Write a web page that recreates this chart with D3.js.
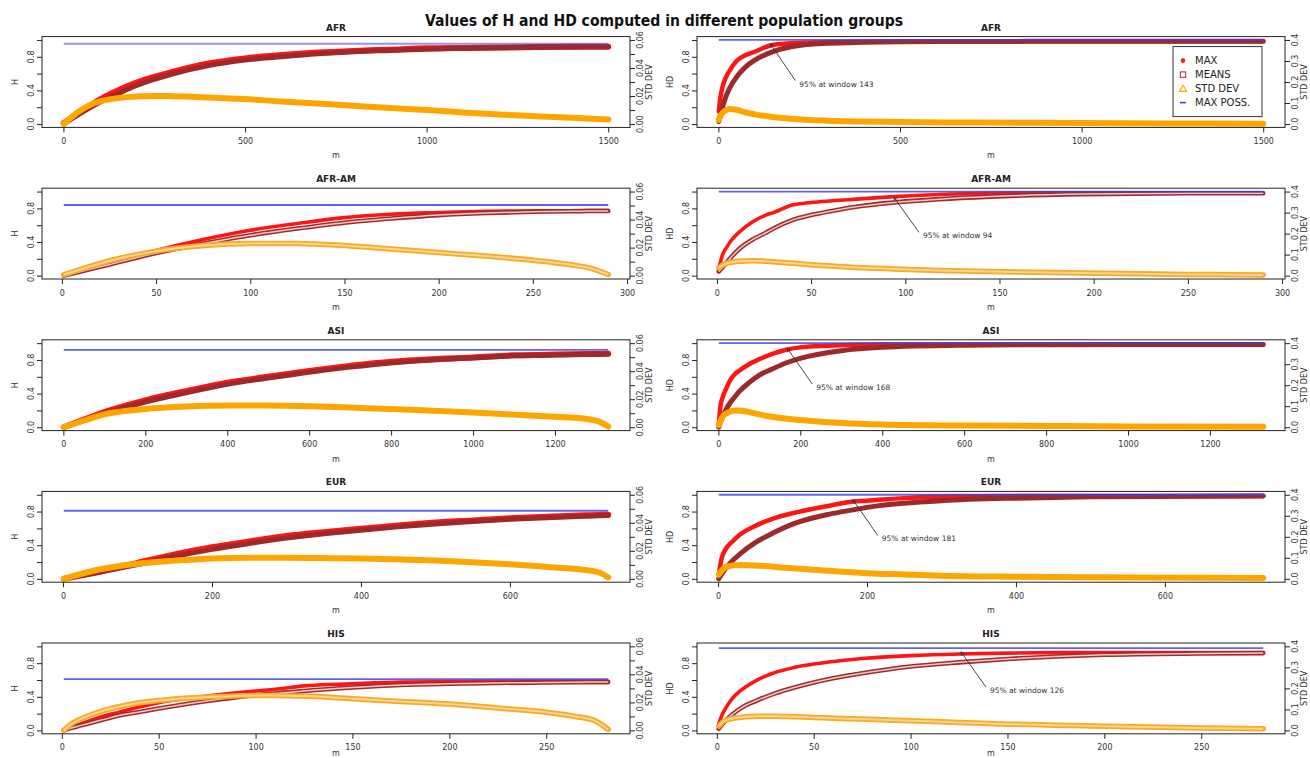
<!DOCTYPE html>
<html><head><meta charset="utf-8">
<script src="https://cdn.jsdelivr.net/npm/d3@7"></script>
<style>
html,body{margin:0;padding:0;background:#fff;}
svg{display:block;}
text{font-family:"DejaVu Sans","Liberation Sans",sans-serif;}
</style></head><body>
<svg id="chart" width="1310" height="758"></svg>
<script>
// ---------------- DATA ----------------
const mainTitle = "Values of H and HD computed in different population groups";
const groups = ["AFR", "AFR-AM", "ASI", "EUR", "HIS"];
const mLast = [1500, 290, 1330, 732, 282];
const xTicks = [
  [0, 500, 1000, 1500],
  [0, 50, 100, 150, 200, 250, 300],
  [0, 200, 400, 600, 800, 1000, 1200],
  [0, 200, 400, 600],
  [0, 50, 100, 150, 200, 250]
];
const yTicks = [0, 0.2, 0.4, 0.6, 0.8, 1.0];
const yLabels = [0, 0.4, 0.8];
const sdTicksH = [0, 0.01, 0.02, 0.03, 0.04, 0.05, 0.06];
const sdLabelsH = [0, 0.02, 0.04, 0.06];
const sdTicksHD = [0, 0.1, 0.2, 0.3, 0.4];
const hMaxPoss = [0.955, 0.84, 0.92, 0.81, 0.61];
const hdMaxPoss = [1.0, 1.0, 1.0, 1.0, 0.98];
const window95 = [143, 94, 168, 181, 126];
const window95Value = [0.955, 0.93, 0.94, 0.94, 0.935];
const legendLabels = ["MAX", "MEANS", "STD DEV", "MAX POSS."];

// AFR
const afrH_m    = [1, 25, 50, 75, 100, 150, 200, 250, 300, 400, 500, 600, 700, 800, 900, 1000, 1100, 1200, 1300, 1400, 1500];
const afrH_max  = [0.01, 0.08, 0.15, 0.22, 0.29, 0.40, 0.49, 0.56, 0.62, 0.72, 0.78, 0.82, 0.85, 0.87, 0.885, 0.90, 0.905, 0.91, 0.915, 0.918, 0.92];
const afrH_mean = [0.0, 0.07, 0.135, 0.20, 0.26, 0.36, 0.455, 0.53, 0.595, 0.695, 0.76, 0.80, 0.835, 0.86, 0.875, 0.89, 0.90, 0.908, 0.913, 0.917, 0.92];
const afrH_sd   = [0.0, 0.0055, 0.0102, 0.0138, 0.0161, 0.0185, 0.0197, 0.0200, 0.0199, 0.019, 0.0178, 0.0161, 0.0147, 0.013, 0.0114, 0.010, 0.0083, 0.0068, 0.0056, 0.0045, 0.0033];
const afrHD_m    = [1, 5, 10, 20, 30, 50, 75, 100, 143, 200, 300, 400, 500, 700, 1000, 1250, 1500];
const afrHD_max  = [0.15, 0.30, 0.42, 0.55, 0.63, 0.75, 0.82, 0.86, 0.935, 0.96, 0.975, 0.98, 0.982, 0.984, 0.985, 0.985, 0.985];
const afrHD_mean = [0.03, 0.10, 0.18, 0.32, 0.42, 0.56, 0.68, 0.76, 0.85, 0.92, 0.96, 0.972, 0.978, 0.982, 0.984, 0.985, 0.985];
const afrHD_sd   = [0.02, 0.035, 0.05, 0.065, 0.071, 0.068, 0.055, 0.046, 0.035, 0.025, 0.016, 0.012, 0.0095, 0.007, 0.005, 0.003, 0.0015];

// AFR-AM
const afamH_m    = [1, 10, 25, 50, 75, 100, 125, 150, 175, 200, 225, 250, 270, 280, 290];
const afamH_max  = [0.0, 0.05, 0.15, 0.30, 0.43, 0.54, 0.62, 0.69, 0.73, 0.75, 0.765, 0.77, 0.77, 0.77, 0.77];
const afamH_mean = [0.0, 0.05, 0.13, 0.27, 0.38, 0.48, 0.56, 0.63, 0.68, 0.72, 0.745, 0.76, 0.765, 0.77, 0.77];
const afamH_sd   = [0.0007, 0.0045, 0.0105, 0.0175, 0.0215, 0.023, 0.023, 0.0215, 0.019, 0.0165, 0.014, 0.011, 0.0078, 0.0055, 0.0008];
const afamHD_m    = [1, 3, 5, 8, 12, 19, 26, 30, 40, 50, 61, 74, 94, 118, 145, 195, 250, 290];
const afamHD_max  = [0.08, 0.25, 0.33, 0.43, 0.52, 0.64, 0.72, 0.75, 0.84, 0.87, 0.89, 0.91, 0.94, 0.965, 0.98, 0.985, 0.985, 0.985];
const afamHD_mean = [0.05, 0.10, 0.15, 0.23, 0.32, 0.43, 0.51, 0.56, 0.66, 0.72, 0.77, 0.82, 0.87, 0.91, 0.94, 0.97, 0.98, 0.98];
const afamHD_sd   = [0.036, 0.05, 0.058, 0.064, 0.069, 0.071, 0.068, 0.066, 0.059, 0.052, 0.046, 0.039, 0.032, 0.025, 0.02, 0.012, 0.006, 0.003];

// ASI
const asiH_m    = [1, 50, 100, 200, 300, 400, 500, 600, 700, 800, 900, 1000, 1100, 1200, 1280, 1310, 1330];
const asiH_max  = [0.0, 0.09, 0.18, 0.32, 0.43, 0.53, 0.60, 0.67, 0.73, 0.78, 0.81, 0.83, 0.855, 0.865, 0.87, 0.872, 0.874];
const asiH_mean = [0.0, 0.08, 0.16, 0.30, 0.41, 0.51, 0.585, 0.655, 0.715, 0.765, 0.80, 0.825, 0.85, 0.86, 0.867, 0.87, 0.872];
const asiH_sd   = [0.0, 0.0048, 0.0092, 0.013, 0.0148, 0.0155, 0.0155, 0.015, 0.014, 0.013, 0.0118, 0.0105, 0.009, 0.0074, 0.0058, 0.0038, 0.0005];
const asiHD_m    = [1, 5, 10, 20, 30, 40, 50, 75, 100, 130, 168, 200, 300, 400, 600, 800, 1000, 1330];
const asiHD_max  = [0.02, 0.25, 0.35, 0.47, 0.57, 0.63, 0.67, 0.75, 0.81, 0.87, 0.925, 0.95, 0.975, 0.985, 0.985, 0.985, 0.985, 0.985];
const asiHD_mean = [0.0, 0.06, 0.12, 0.22, 0.30, 0.36, 0.42, 0.53, 0.62, 0.69, 0.77, 0.82, 0.91, 0.95, 0.975, 0.982, 0.985, 0.985];
const asiHD_sd   = [0.01, 0.03, 0.05, 0.066, 0.075, 0.08, 0.08, 0.072, 0.061, 0.05, 0.04, 0.034, 0.02, 0.013, 0.008, 0.006, 0.004, 0.002];

// EUR
const eurH_m    = [1, 50, 100, 150, 200, 250, 300, 350, 400, 450, 500, 550, 600, 650, 700, 720, 732];
const eurH_max  = [0.0, 0.086, 0.19, 0.29, 0.375, 0.445, 0.51, 0.555, 0.595, 0.635, 0.67, 0.695, 0.72, 0.74, 0.755, 0.76, 0.762];
const eurH_mean = [0.0, 0.08, 0.17, 0.265, 0.35, 0.42, 0.485, 0.535, 0.578, 0.618, 0.652, 0.682, 0.708, 0.728, 0.745, 0.75, 0.752];
const eurH_sd   = [0.0, 0.0068, 0.0108, 0.013, 0.0146, 0.015, 0.015, 0.0148, 0.0146, 0.0139, 0.013, 0.0118, 0.0104, 0.0085, 0.0064, 0.0045, 0.001];
const eurHD_m    = [1, 5, 10, 20, 30, 50, 75, 100, 150, 181, 200, 250, 300, 400, 500, 732];
const eurHD_max  = [0.05, 0.25, 0.35, 0.45, 0.53, 0.63, 0.72, 0.78, 0.87, 0.92, 0.93, 0.96, 0.975, 0.985, 0.985, 0.985];
const eurHD_mean = [0.0, 0.06, 0.12, 0.22, 0.30, 0.43, 0.55, 0.65, 0.77, 0.82, 0.85, 0.90, 0.93, 0.96, 0.975, 0.985];
const eurHD_sd   = [0.02, 0.04, 0.055, 0.064, 0.066, 0.064, 0.057, 0.05, 0.038, 0.031, 0.027, 0.021, 0.015, 0.01, 0.007, 0.004];

// HIS
const hisH_m    = [1, 5, 10, 20, 30, 40, 50, 75, 100, 110, 125, 150, 175, 200, 225, 250, 265, 275, 282];
const hisH_max  = [0.0, 0.04, 0.08, 0.16, 0.22, 0.28, 0.33, 0.41, 0.47, 0.49, 0.53, 0.555, 0.575, 0.58, 0.585, 0.585, 0.585, 0.585, 0.585];
const hisH_mean = [0.0, 0.03, 0.06, 0.12, 0.18, 0.22, 0.26, 0.35, 0.42, 0.44, 0.47, 0.51, 0.54, 0.555, 0.565, 0.57, 0.573, 0.575, 0.575];
const hisH_sd   = [0.0, 0.0048, 0.0083, 0.0135, 0.0171, 0.0197, 0.0214, 0.0238, 0.025, 0.025, 0.0245, 0.0226, 0.0207, 0.0188, 0.016, 0.013, 0.010, 0.007, 0.0007];
const hisHD_m    = [1, 3, 5, 8, 12, 15, 20, 30, 40, 50, 60, 75, 100, 125, 150, 175, 200, 250, 282];
const hisHD_max  = [0.08, 0.20, 0.28, 0.38, 0.47, 0.52, 0.59, 0.69, 0.75, 0.79, 0.82, 0.855, 0.89, 0.91, 0.92, 0.925, 0.925, 0.925, 0.925];
const hisHD_mean = [0.02, 0.08, 0.13, 0.19, 0.26, 0.30, 0.35, 0.44, 0.51, 0.57, 0.62, 0.68, 0.76, 0.81, 0.85, 0.88, 0.90, 0.915, 0.92];
const hisHD_sd   = [0.02, 0.04, 0.05, 0.057, 0.062, 0.065, 0.068, 0.068, 0.065, 0.062, 0.058, 0.054, 0.046, 0.038, 0.03, 0.025, 0.02, 0.012, 0.008];

// ---------------- BUILD ----------------
const panels = [
  {g:0, kind:"H",  m:afrH_m,  max:afrH_max,  mean:afrH_mean,  sd:afrH_sd},
  {g:0, kind:"HD", m:afrHD_m, max:afrHD_max, mean:afrHD_mean, sd:afrHD_sd},
  {g:1, kind:"H",  m:afamH_m,  max:afamH_max,  mean:afamH_mean,  sd:afamH_sd},
  {g:1, kind:"HD", m:afamHD_m, max:afamHD_max, mean:afamHD_mean, sd:afamHD_sd},
  {g:2, kind:"H",  m:asiH_m,  max:asiH_max,  mean:asiH_mean,  sd:asiH_sd},
  {g:2, kind:"HD", m:asiHD_m, max:asiHD_max, mean:asiHD_mean, sd:asiHD_sd},
  {g:3, kind:"H",  m:eurH_m,  max:eurH_max,  mean:eurH_mean,  sd:eurH_sd},
  {g:3, kind:"HD", m:eurHD_m, max:eurHD_max, mean:eurHD_mean, sd:eurHD_sd},
  {g:4, kind:"H",  m:hisH_m,  max:hisH_max,  mean:hisH_mean,  sd:hisH_sd},
  {g:4, kind:"HD", m:hisHD_m, max:hisHD_max, mean:hisHD_mean, sd:hisHD_sd}
];
const dense = [true, false, true, true, false];

const COL = {red:"#ff1414", brown:"#a52a2a", orange:"#ffa500", blue:"#3c3cec", ink:"#222"};
const svg = d3.select("#chart");
const figW = 655, figH = 151.6;

panels.forEach(p => {
  const col = p.kind === "H" ? 0 : 1, row = p.g;
  const ox = col * figW, oy = row * figH;
  const bx0 = ox + 42, bx1 = ox + 630, by0 = oy + 36.6, by1 = oy + 127.4;
  const last = mLast[p.g], span = last - 1;
  const x = d3.scaleLinear().domain([1 - 0.04 * span, last + 0.04 * span]).range([bx0, bx1]);
  const y = d3.scaleLinear().domain([-0.04, 1.04]).range([by1, by0]);
  const sdMax = p.kind === "H" ? 0.06 : 0.4;
  const y2 = d3.scaleLinear().domain([-0.04 * sdMax, 1.04 * sdMax]).range([by1, by0]);
  const g = svg.append("g");

  const idx = d3.range(p.m.length);
  const lineY = arr => d3.line().x(i => x(p.m[i])).y(i => y(arr[i])).curve(d3.curveMonotoneX);
  const lineSD = d3.line().x(i => x(p.m[i])).y(i => y2(p.sd[i])).curve(d3.curveMonotoneX);
  const dn = dense[p.g];
  const isH = p.kind === "H";

  // MAX (red)
  g.append("path").attr("d", lineY(p.max)(idx)).attr("fill","none")
    .attr("stroke", COL.red).attr("stroke-width", dn ? (isH ? 6 : 4.5) : 3.6)
    .attr("stroke-linejoin","round").attr("stroke-linecap","round");
  // MEANS (brown)
  g.append("path").attr("d", lineY(p.mean)(idx)).attr("fill","none")
    .attr("stroke", dn ? "#9c2a2a" : COL.brown).attr("stroke-width", dn ? 5 : 4.6)
    .attr("stroke-linecap","round");
  if (!dn) {
    g.append("path").attr("d", lineY(p.mean)(idx)).attr("fill","none")
      .attr("stroke", "#eccaca").attr("stroke-width", 1.5);
  }
  // STD DEV (orange)
  g.append("path").attr("d", lineSD(idx)).attr("fill","none")
    .attr("stroke", dn ? COL.orange : "#f7a928").attr("stroke-width", dn ? 6 : 5.5)
    .attr("stroke-linecap","round");
  if (!dn) {
    g.append("path").attr("d", lineSD(idx)).attr("fill","none")
      .attr("stroke", "#fdd48e").attr("stroke-width", 2);
  }
  // MAX POSS (blue)
  const mp = isH ? hMaxPoss[p.g] : hdMaxPoss[p.g];
  g.append("path").attr("d", d3.line().x(d => x(d)).y(() => y(mp))([1, last]))
    .attr("stroke", COL.blue).attr("stroke-width", 1.8).attr("opacity", isH && p.g === 0 ? 0.55 : 0.8);

  // box
  g.append("rect").attr("x", bx0).attr("y", by0).attr("width", bx1 - bx0).attr("height", by1 - by0)
    .attr("fill","none").attr("stroke", COL.ink).attr("stroke-width", 1);

  // bottom axis
  const gx = g.append("g").attr("transform", `translate(0,${by1})`)
    .call(d3.axisBottom(x).tickValues(xTicks[p.g]).tickSize(5).tickSizeOuter(0).tickPadding(6).tickFormat(d3.format("d")));
  gx.select(".domain").remove();
  gx.attr("font-size", 8).attr("font-family", null);
  gx.selectAll("line").attr("stroke", COL.ink);
  gx.selectAll("text").attr("fill", "#333");

  // left axis (ticks) + rotated labels
  const gy = g.append("g").attr("transform", `translate(${bx0},0)`)
    .call(d3.axisLeft(y).tickValues(yTicks).tickSize(5).tickSizeOuter(0).tickFormat(""));
  gy.select(".domain").remove();
  gy.selectAll("line").attr("stroke", COL.ink);
  yLabels.forEach(v => {
    g.append("text").attr("transform", `translate(${bx0 - 8},${y(v)}) rotate(-90)`)
      .attr("text-anchor","middle").attr("font-size", 8).attr("fill","#333").text(d3.format(".1f")(v));
  });

  // right axis
  const rt = isH ? sdTicksH : sdTicksHD;
  const rl = isH ? sdLabelsH : sdTicksHD;
  const gr = g.append("g").attr("transform", `translate(${bx1},0)`)
    .call(d3.axisRight(y2).tickValues(rt).tickSize(5).tickSizeOuter(0).tickFormat(""));
  gr.select(".domain").remove();
  gr.selectAll("line").attr("stroke", COL.ink);
  rl.forEach(v => {
    g.append("text").attr("transform", `translate(${bx1 + 13},${y2(v)}) rotate(-90)`)
      .attr("text-anchor","middle").attr("font-size", 8).attr("fill","#333")
      .text(d3.format(isH ? ".2f" : ".1f")(v));
  });

  // axis titles
  const cx = (bx0 + bx1) / 2, cy = (by0 + by1) / 2;
  g.append("text").attr("x", cx).attr("y", Math.min(by1 + 31, 756)).attr("text-anchor","middle")
    .attr("font-size", 8).attr("fill","#333").text("m");
  g.append("text").attr("transform", `translate(${bx0 - 24},${cy}) rotate(-90)`)
    .attr("text-anchor","middle").attr("font-size", 8).attr("fill","#333").text(isH ? "H" : "HD");
  g.append("text").attr("transform", `translate(${bx1 + 22},${cy}) rotate(-90)`)
    .attr("text-anchor","middle").attr("font-size", 8).attr("fill","#333").text("STD DEV");

  // panel title
  g.append("text").attr("x", cx).attr("y", by0 - 6).attr("text-anchor","middle")
    .attr("font-size", 9).attr("font-weight","bold").attr("fill", COL.ink).text(groups[p.g]);

  // 95% annotation
  if (!isH) {
    const hx = x(window95[p.g]), hy = y(window95Value[p.g]);
    const tx = hx + 29, ty = y(0.48);
    g.append("line").attr("x1", tx - 4).attr("y1", ty - 3).attr("x2", hx).attr("y2", hy)
      .attr("stroke", "#333").attr("stroke-width", 0.9);
    const ang = Math.atan2(hy - (ty - 3), hx - (tx - 4));
    const ah = 4, aw = 0.45;
    g.append("path").attr("d", d3.line()([
        [hx - ah * Math.cos(ang - aw), hy - ah * Math.sin(ang - aw)], [hx, hy],
        [hx - ah * Math.cos(ang + aw), hy - ah * Math.sin(ang + aw)]]))
      .attr("fill","none").attr("stroke","#333").attr("stroke-width", 0.9);
    g.append("text").attr("x", tx).attr("y", ty + 3).attr("font-size", 7.5).attr("fill","#333")
      .text(`95% at window ${window95[p.g]}`);
  }

  // legend (top-right panel only)
  if (!isH && p.g === 0) {
    const lx0 = bx1 - 112, ly0 = by0 + 10, lw = 89, lh = 70;
    g.append("rect").attr("x", lx0).attr("y", ly0).attr("width", lw).attr("height", lh)
      .attr("fill","#fff").attr("stroke","#333").attr("stroke-width", 1);
    legendLabels.forEach((lab, i) => {
      const ry = ly0 + 14 + i * 14, mx = lx0 + 10;
      if (i === 0) g.append("circle").attr("cx", mx).attr("cy", ry).attr("r", 2.3).attr("fill", COL.red);
      if (i === 1) g.append("rect").attr("x", mx - 2.7).attr("y", ry - 2.7).attr("width", 5.4).attr("height", 5.4)
        .attr("fill","none").attr("stroke", COL.brown).attr("stroke-width", 1);
      if (i === 2) g.append("path").attr("d", d3.line()([[mx, ry - 3.5], [mx + 3.5, ry + 2.8], [mx - 3.5, ry + 2.8], [mx, ry - 3.5]]))
        .attr("fill","none").attr("stroke", COL.orange).attr("stroke-width", 1.1);
      if (i === 3) g.append("line").attr("x1", mx - 3).attr("x2", mx + 3).attr("y1", ry).attr("y2", ry)
        .attr("stroke", COL.blue).attr("stroke-width", 1.5);
      g.append("text").attr("x", lx0 + 22).attr("y", ry + 3.6).attr("font-size", 10).attr("fill", "#222").text(lab);
    });
  }
});

// main title
svg.append("text").attr("x", 664).attr("y", 26).attr("text-anchor","middle")
  .attr("font-family", "'DejaVu Sans Condensed','DejaVu Sans',sans-serif")
  .attr("font-size", 15).attr("font-weight","bold").attr("fill","#111")
  .attr("textLength", 478).attr("lengthAdjust","spacingAndGlyphs")
  .text(mainTitle);
</script>
</body></html>
